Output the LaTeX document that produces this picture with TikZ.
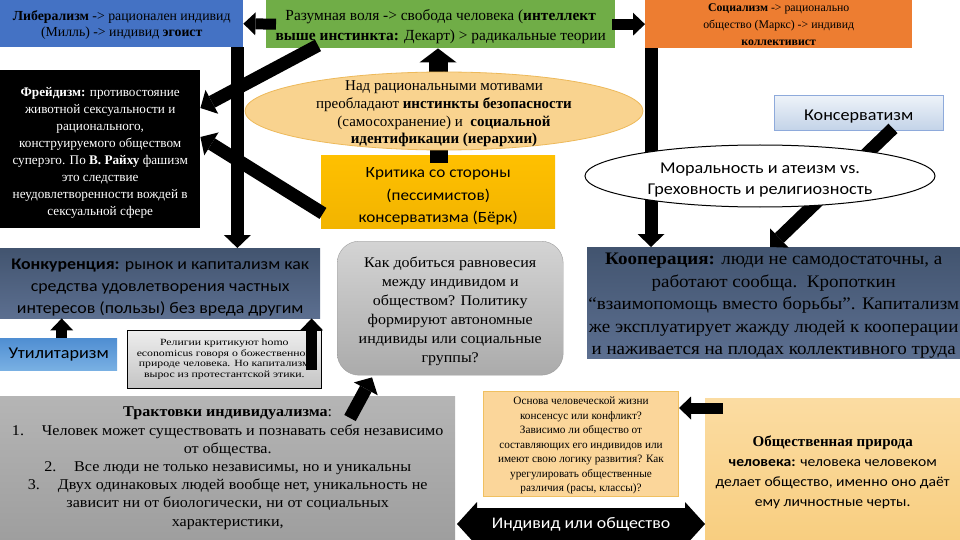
\documentclass[tikz,border=0pt]{standalone}
\usepackage{fontspec}
\setmainfont{Liberation Serif}
\newfontfamily\calfont[FakeStretch=1.1]{Carlito}
\newfontfamily\serwide[FakeStretch=1.24]{Liberation Serif}
\newfontfamily\sermid[FakeStretch=1.08]{Liberation Serif}
\newcommand\dn[1]{\rule{0pt}{\dimexpr0.72em+#1\relax}}
\usetikzlibrary{arrows.meta,calc,shapes.geometric}
\definecolor{libblue}{HTML}{4472C4}
\definecolor{grn}{HTML}{70AD47}
\definecolor{org}{HTML}{ED7D31}
\definecolor{cream}{HTML}{F9D38F}
\definecolor{creamedge}{HTML}{EDB95A}
\definecolor{gold}{HTML}{FFC000}
\definecolor{goldb}{HTML}{F2B400}
\definecolor{slatet}{HTML}{42546F}
\definecolor{slateb}{HTML}{5C6F90}
\definecolor{konst}{HTML}{EEF3F9}
\definecolor{konsb}{HTML}{C3D3E8}
\definecolor{konsedge}{HTML}{8EAADB}
\definecolor{utilt}{HTML}{4F8ED2}
\definecolor{utilb}{HTML}{79B0E3}
\definecolor{osnf}{HTML}{FBD69A}
\definecolor{osne}{HTML}{F0C060}
\definecolor{obst}{HTML}{FBDCA2}
\definecolor{obsb}{HTML}{F8CE80}
\tikzset{
  box/.style={anchor=north west, inner sep=0pt, align=center, text=black},
  arrbig/.style={draw=black, line width=19pt, -{Triangle[width=37pt,length=14pt,line width=0pt]}},
  arrmid/.style={draw=black, line width=13pt, -{Triangle[width=27pt,length=13pt,line width=0pt]}},
  arrsm/.style={draw=black, line width=11pt, -{Triangle[width=23pt,length=12pt,line width=0pt]}},
}
\begin{document}
\begin{tikzpicture}[x=1pt,y=-1pt]
\useasboundingbox (0,0) rectangle (960,540);
\fill[white] (0,0) rectangle (960,540);

% ---- top row boxes
\node[box, fill=libblue, minimum width=243pt, minimum height=47pt,
  font=\fontsize{13.8}{16}\selectfont] (lib) at (0,0)
  {\dn{2pt}\textbf{Либерализм} -> рационален индивид\\(Милль) -> индивид \textbf{эгоист}};
\node[box, fill=grn, minimum width=349pt, minimum height=48pt,
  font=\fontsize{15.4}{20}\selectfont] (green) at (266,0)
  {\dn{5pt}Разумная воля -> свобода человека (\textbf{интеллект}\\\textbf{выше инстинкта:} Декарт) > радикальные теории};
\node[box, fill=org, minimum width=267pt, minimum height=48pt,
  font=\fontsize{11.8}{17}\selectfont] (orange) at (645,0)
  {\textbf{Социализм} -> рационально\\общество (Маркс) -> индивид\\\textbf{коллективист}};

% ---- left black box
\node[box, fill=black, text=white, minimum width=200pt, minimum height=158pt,
  font=\fontsize{13.2}{17}\selectfont] (freud) at (0,70)
  {\dn{7pt}\textbf{Фрейдизм:} противостояние\\животной сексуальности и\\рационального,\\конструируемого обществом\\суперэго. По \textbf{В. Райху} фашизм\\это следствие\\неудовлетворенности вождей в\\сексуальной сфере};

% ---- gold critique box
\node[box, top color=gold, bottom color=goldb, minimum width=234pt, minimum height=73pt,
  font=\calfont\fontsize{15.6}{22.5}\selectfont] (krit) at (321,155)
  {\dn{8pt}Критика со стороны\\(пессимистов)\\консерватизма (Бёрк)};

% ---- conservatism box
\node[box, top color=konst, bottom color=konsb, draw=konsedge, minimum width=169pt, minimum height=35pt,
  font=\calfont\fontsize{16.5}{19}\selectfont] (kons) at (774,95) {\dn{6pt}Консерватизм};

% ---- middle row
\node[box, top color=slatet, bottom color=slateb, minimum width=320pt, minimum height=70pt,
  font=\calfont\fontsize{16.2}{22}\selectfont] (konk) at (0,248)
  {\dn{8pt}\textbf{Конкуренция:} рынок и капитализм как\\средства удовлетворения частных\\интересов (пользы) без вреда другим};
\node[box, top color=utilt, bottom color=utilb, minimum width=117pt, minimum height=32pt,
  font=\calfont\fontsize{16.5}{18}\selectfont] (util) at (0,338) {Утилитаризм};
\node[box, top color=white!93!black, bottom color=white!77!black, draw=black, line width=0.6pt,
  minimum width=194pt, minimum height=58pt,
  font=\serwide\fontsize{9.5}{10.6}\selectfont] (rel) at (127,330)
  {Религии критикуют homo\\economicus говоря о божественной\\природе человека. Но капитализм\\вырос из протестантской этики.};
\node[box, top color=white!83!black, bottom color=white!67!black, draw=white!62!black,
  rounded corners=22pt, minimum width=226pt, minimum height=134pt,
  font=\sermid\fontsize{14.8}{19}\selectfont] (round) at (337,241)
  {\dn{6pt}Как добиться равновесия\\между индивидом и\\обществом? Политику\\формируют автономные\\индивиды или социальные\\группы?};
\node[box, top color=slatet, bottom color=slateb, minimum width=373pt, minimum height=111pt,
  font=\sermid\fontsize{17.6}{22.5}\selectfont] (coop) at (587,247)
  {\dn{5pt}\textbf{Кооперация:} люди не самодостаточны, а\\работают сообща.\ \ Кропоткин\\“взаимопомощь вместо борьбы”. Капитализм\\же эксплуатирует жажду людей к кооперации\\и наживается на плодах коллективного труда};

% ---- bottom row
\node[box, top color=white!71!black, bottom color=white!62!black, minimum width=455pt, minimum height=144pt,
  font=\sermid\fontsize{14.9}{18.2}\selectfont] (trakt) at (0,396)
  {\textbf{Трактовки индивидуализма}:\\1.\hspace{1.2em}Человек может существовать и познавать себя независимо\\от общества.\\2.\hspace{1.2em}Все люди не только независимы, но и уникальны\\3.\hspace{1.2em}Двух одинаковых людей вообще нет, уникальность не\\зависит ни от биологически, ни от социальных\\характеристики,};
\node[box, fill=osnf, draw=osne, line width=1pt, minimum width=195pt, minimum height=105pt,
  font=\fontsize{11.25}{14.5}\selectfont] (osn) at (483,391)
  {\dn{3pt}Основа человеческой жизни\\консенсус или конфликт?\\Зависимо ли общество от\\составляющих его индивидов или\\имеют свою логику развития? Как\\урегулировать общественные\\различия (расы, классы)?};
\node[box, top color=obst, bottom color=obsb, minimum width=255pt, minimum height=142pt,
  font=\calfont\fontsize{14.2}{20}\selectfont] (obs) at (705,398)
  {{\rmfamily\bfseries\fontsize{15}{20}\selectfont\dn{6pt}Общественная природа}\\\textbf{человека:} человека человеком\\делает общество, именно оно даёт\\ему личностные черты.};

% ---- arrows hidden partly by ellipses (drawn first)
\coordinate (orx) at ($(orange.south west)+(6,0)$);
\draw[arrmid] (orx) -- (orx |- coop.north);
\draw[arrmid] ($(kons.south west)+(119,-2)$) -- ($(coop.north west)+(183,0)$);
\draw[arrbig] ($(green.south west)+(172,30)$) -- ($(green.south west)+(172,0)$);
\draw[draw=black, line width=18pt] ($(krit.north)+(1,8)$) -- ($(krit.north |- green.south)+(1,100)$);

% ---- ellipses
\coordinate (ellc) at (444,111);
\filldraw[fill=cream, draw=creamedge, line width=0.8pt] (ellc) ellipse [x radius=199, y radius=39];
\node[inner sep=0pt, align=center, font=\fontsize{15}{17.7}\selectfont] (ell) at ($(ellc)+(0,3)$)
  {Над рациональными мотивами\\преобладают \textbf{инстинкты безопасности}\\(самосохранение) и\ \ \textbf{социальной}\\\textbf{идентификации (иерархии)}};
\coordinate (morc) at (760,176);
\filldraw[fill=white, draw=black, line width=1pt] (morc) ellipse [x radius=175, y radius=31];
\node[inner sep=0pt, align=center, font=\calfont\fontsize{16.5}{21}\selectfont] (mor) at ($(morc)+(0,4)$)
  {Моральность и атеизм vs.\\Греховность и религиозность};

% ---- other block arrows
\draw[arrsm] ($(green.west)+(10,0)$) -- (lib.east);
\draw[arrsm] ($(green.east)+(-3,0)$) -- (orange.west);
\coordinate (lbx) at ($(lib.south east)+(-6,0)$);
\draw[arrmid] (lbx) -- (lbx |- konk.north);
\draw[arrmid] ($(green.south west)+(52,-3)$) -- ($(freud.north east)+(0,38)$);
\draw[arrmid] ($(krit.south west)+(2,-15)$) -- ($(freud.north east)+(0,67)$);
\coordinate (utx) at ($(util.north)+(3,0)$);
\draw[arrsm] (utx) -- (utx |- konk.south);
\coordinate (rlx) at ($(rel.north east)+(-10,40)$);
\draw[arrsm] (rlx) -- (rlx |- konk.south);
\draw[arrmid] ($(trakt.north west)+(350,22)$) -- ($(round.south west)+(35,2)$);
\draw[arrsm] ($(obs.north west)+(18,10)$) -- ($(osn.north east)+(0,17)$);

% ---- double arrow
\coordinate (indc) at (581,524);
\fill[black] ($(indc)+(-124,0)$) -- ++(20,-22) -- ++(0,6) -- ++(208,0) -- ++(0,-6) -- ++(20,22)
  -- ++(-20,22) -- ++(0,-6) -- ++(-208,0) -- ++(0,6) -- cycle;
\node[inner sep=0pt, text=white, font=\calfont\fontsize{16.2}{19}\selectfont] (ind) at (indc) {Индивид или общество};
\end{tikzpicture}
\end{document}
